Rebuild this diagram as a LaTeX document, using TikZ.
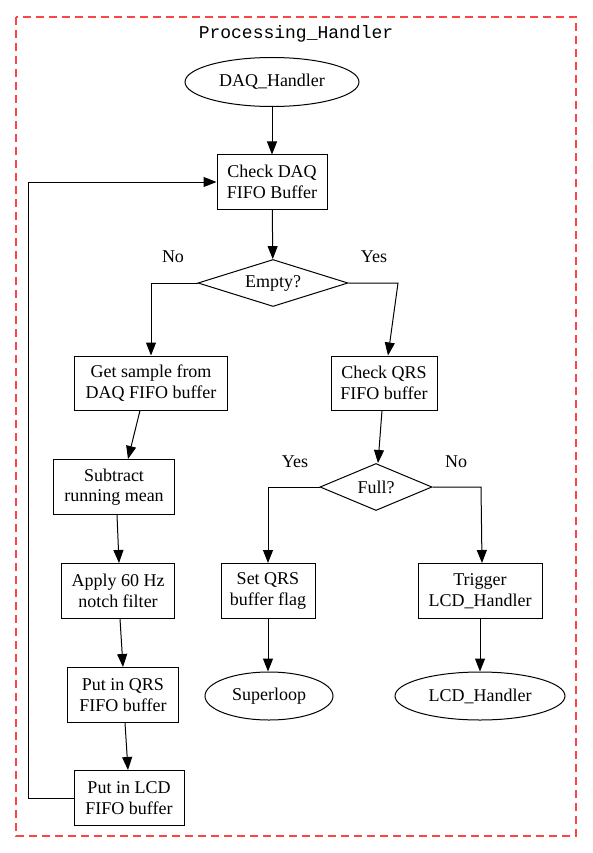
\documentclass[tikz,border=0pt]{standalone}
\usepackage{fontspec}
\setmainfont{Liberation Serif}
\setmonofont{Liberation Mono}
\usetikzlibrary{shapes.geometric,arrows.meta}
\definecolor{clusterred}{RGB}{250,70,70}
\begin{document}
\begin{tikzpicture}[x=1pt,y=-1pt,
  every node/.style={font=\fontsize{18}{20.5}\selectfont, inner sep=0pt, line width=1pt},
  box/.style={draw, rectangle, align=center},
  oval/.style={draw, ellipse},
  decision/.style={draw, diamond, aspect=3},
  arr/.style={line width=1pt, -{Triangle[length=13pt,width=10pt]}}
]
\useasboundingbox (0,0) rectangle (592,853);
\draw[clusterred, line width=1.4pt, dash pattern=on 8pt off 5pt] (16,17) rectangle (576,836);
\node (title) at (296,34) {\ttfamily Processing\_Handler};

\node[oval, minimum width=174pt, minimum height=49pt] (daq) at (272,82) {DAQ\_Handler};
\node[box, minimum width=110pt, minimum height=54pt] (chk) at (272,182) {Check DAQ\\FIFO Buffer};
\node[decision, minimum width=150pt, minimum height=47pt] (empty) at (273,283) {Empty?};
\node (no1) at (173,257) {No};
\node (yes1) at (374,257) {Yes};
\node[box, minimum width=153pt, minimum height=54pt] (get) at (151,383) {Get sample from\\DAQ FIFO buffer};
\node[box, minimum width=106pt, minimum height=54pt] (cqrs) at (384,383) {Check QRS\\FIFO buffer};
\node[box, minimum width=121pt, minimum height=55pt] (sub) at (114,487) {Subtract\\running mean};
\node[decision, minimum width=112pt, minimum height=47pt] (full) at (376,487) {Full?};
\node (yes2) at (295,462) {Yes};
\node (no2) at (456,462) {No};
\node[box, minimum width=113pt, minimum height=55pt] (notch) at (118,591) {Apply 60 Hz\\notch filter};
\node[box, minimum width=94pt, minimum height=55pt] (setq) at (268,591) {Set QRS\\buffer flag};
\node[box, minimum width=124pt, minimum height=55pt] (trig) at (480,591) {Trigger\\LCD\_Handler};
\node[box, minimum width=111pt, minimum height=55pt] (putq) at (123,695) {Put in QRS\\FIFO buffer};
\node[oval, minimum width=128pt, minimum height=48pt] (super) at (269,696) {Superloop};
\node[oval, minimum width=170pt, minimum height=48pt] (lcdh) at (480,696) {LCD\_Handler};
\node[box, minimum width=110pt, minimum height=55pt] (putl) at (129,798) {Put in LCD\\FIFO buffer};

\coordinate (l1) at (151,283);
\coordinate (r1) at (398,283);
\coordinate (l2) at (268,487);
\coordinate (r2) at (481,487);
\coordinate (lb) at (28,798);
\coordinate (lt) at (28,182);

\draw[arr] (daq) -- (chk);
\draw[arr] (chk) -- (empty);
\draw[arr] (empty.west) -- (l1) -- (get.north -| l1);
\draw[arr] (empty.east) -- (r1) -- ([xshift=4pt]cqrs.north);
\draw[arr] ([xshift=-11pt]get.south) -- ([xshift=14pt]sub.north);
\draw[arr] ([xshift=3pt]sub.south) -- ([xshift=1pt]notch.north);
\draw[arr] ([xshift=2pt]notch.south) -- (putq.north);
\draw[arr] ([xshift=2pt]putq.south) -- ([xshift=-1pt]putl.north);
\draw[arr] ([xshift=-2pt]cqrs.south) -- ([xshift=2pt]full.north);
\draw[arr] (full.west) -- (l2) -- (setq.north -| l2);
\draw[arr] (full.east) -- (r2) -- ([xshift=2pt]trig.north);
\draw[arr] (setq) -- (setq |- super.north);
\draw[arr] (trig) -- (trig |- lcdh.north);
\draw[arr] (putl.west) -- (lb) -- (lt) -- (chk.west);
\end{tikzpicture}
\end{document}
